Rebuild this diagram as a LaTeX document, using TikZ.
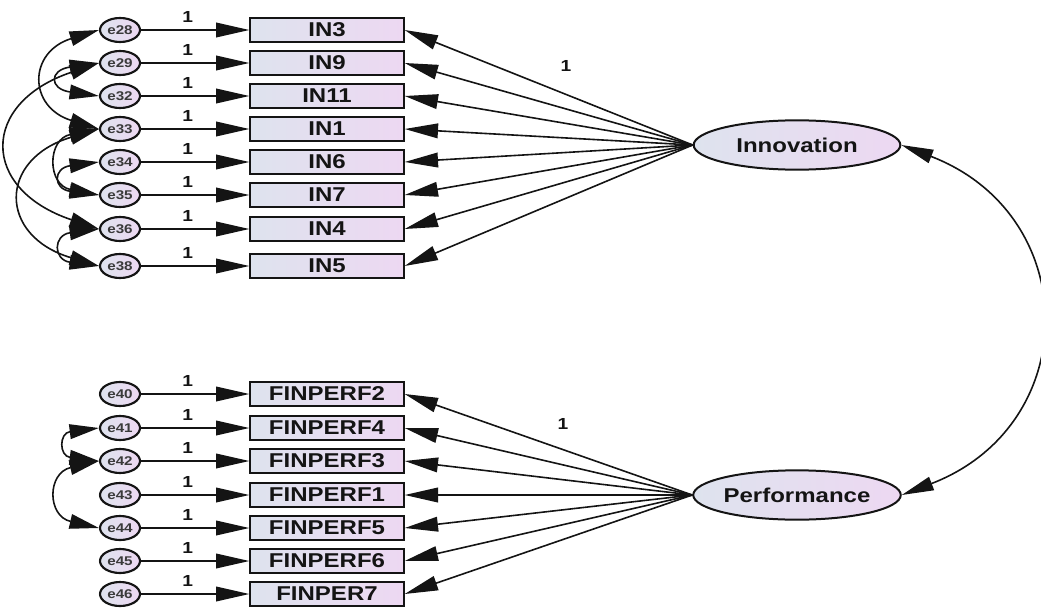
\documentclass[tikz,border=0pt]{standalone}
\usepackage{fontspec}
\newfontfamily\amosfont[FakeStretch=1.2]{Liberation Sans}
\usetikzlibrary{arrows.meta,shapes.geometric}
\definecolor{shadeL}{HTML}{DEE3EE}
\definecolor{shadeR}{HTML}{EDD8F2}
\definecolor{ink}{HTML}{141414}
\definecolor{errtext}{HTML}{3A3A3A}
\tikzset{
  obs/.style={draw=ink, line width=1.5pt, rectangle, minimum width=115pt, minimum height=18pt, inner sep=0pt, left color=shadeL, right color=shadeR, text=ink, font=\amosfont\bfseries\fontsize{15}{15}\selectfont},
  err/.style={draw=ink, line width=1.6pt, ellipse, minimum width=30pt, minimum height=18pt, inner sep=0pt, left color=shadeL, right color=shadeR, text=errtext, font=\amosfont\bfseries\fontsize{9.5}{9.5}\selectfont},
  lat/.style={draw=ink, line width=1.5pt, ellipse, minimum width=155pt, minimum height=37pt, inner sep=0pt, left color=shadeL, right color=shadeR, text=ink, font=\amosfont\bfseries\fontsize{15}{15}\selectfont},
  reg/.style={draw=ink, line width=1.2pt, -{Triangle[length=25pt,width=11pt]}},
  cov/.style={draw=ink, line width=1.2pt, {Triangle[length=22pt,width=11pt]}-{Triangle[length=22pt,width=11pt]}},
  covbig/.style={draw=ink, line width=1.2pt, {Triangle[length=24pt,width=10.5pt]}-{Triangle[length=24pt,width=10.5pt]}},
  one/.style={text=ink, font=\amosfont\bfseries\fontsize{12}{12}\selectfont},
}
\begin{document}
\begin{tikzpicture}[x=0.75pt,y=-0.75pt]
  \useasboundingbox (0,0) rectangle (1041,610);

  % latent variables
  \node[lat] (inn) at (797,145) {Innovation};
  \node[lat] (perf) at (797,495) {Performance};

  % innovation indicators
  \node[err] (e28) at (120,30) {e28};  \node[obs] (in3) at (327,30) {IN3};
  \node[err] (e29) at (120,63) {e29};  \node[obs] (in9) at (327,63) {IN9};
  \node[err] (e32) at (120,96) {e32};  \node[obs] (in11) at (327,96) {IN11};
  \node[err] (e33) at (120,129) {e33}; \node[obs] (in1) at (327,129) {IN1};
  \node[err] (e34) at (120,162) {e34}; \node[obs] (in6) at (327,162) {IN6};
  \node[err] (e35) at (120,195) {e35}; \node[obs] (in7) at (327,195) {IN7};
  \node[err] (e36) at (120,229) {e36}; \node[obs] (in4) at (327,229) {IN4};
  \node[err] (e38) at (120,266) {e38}; \node[obs] (in5) at (327,266) {IN5};

  % performance indicators
  \node[err] (e40) at (120,394) {e40}; \node[obs] (fp2) at (327,394) {FINPERF2};
  \node[err] (e41) at (120,428) {e41}; \node[obs] (fp4) at (327,428) {FINPERF4};
  \node[err] (e42) at (120,461) {e42}; \node[obs] (fp3) at (327,461) {FINPERF3};
  \node[err] (e43) at (120,495) {e43}; \node[obs] (fp1) at (327,495) {FINPERF1};
  \node[err] (e44) at (120,528) {e44}; \node[obs] (fp5) at (327,528) {FINPERF5};
  \node[err] (e45) at (120,561) {e45}; \node[obs] (fp6) at (327,561) {FINPERF6};
  \node[err] (e46) at (120,594) {e46}; \node[obs] (fp7) at (327,594) {FINPER7};

  % error paths
  \draw[reg] (e28) -- node[one,above=2pt,pos=0.43] {1} (in3);
  \draw[reg] (e29) -- node[one,above=2pt,pos=0.43] {1} (in9);
  \draw[reg] (e32) -- node[one,above=2pt,pos=0.43] {1} (in11);
  \draw[reg] (e33) -- node[one,above=2pt,pos=0.43] {1} (in1);
  \draw[reg] (e34) -- node[one,above=2pt,pos=0.43] {1} (in6);
  \draw[reg] (e35) -- node[one,above=2pt,pos=0.43] {1} (in7);
  \draw[reg] (e36) -- node[one,above=2pt,pos=0.43] {1} (in4);
  \draw[reg] (e38) -- node[one,above=2pt,pos=0.43] {1} (in5);
  \draw[reg] (e40) -- node[one,above=2pt,pos=0.43] {1} (fp2);
  \draw[reg] (e41) -- node[one,above=2pt,pos=0.43] {1} (fp4);
  \draw[reg] (e42) -- node[one,above=2pt,pos=0.43] {1} (fp3);
  \draw[reg] (e43) -- node[one,above=2pt,pos=0.43] {1} (fp1);
  \draw[reg] (e44) -- node[one,above=2pt,pos=0.43] {1} (fp5);
  \draw[reg] (e45) -- node[one,above=2pt,pos=0.43] {1} (fp6);
  \draw[reg] (e46) -- node[one,above=2pt,pos=0.43] {1} (fp7);

  % loadings
  \draw[reg] (inn.west) -- node[one,above=13pt,pos=0.44] {1} (in3.east);
  \draw[reg] (inn.west) -- (in9.east);
  \draw[reg] (inn.west) -- (in11.east);
  \draw[reg] (inn.west) -- (in1.east);
  \draw[reg] (inn.west) -- (in6.east);
  \draw[reg] (inn.west) -- (in7.east);
  \draw[reg] (inn.west) -- (in4.east);
  \draw[reg] (inn.west) -- (in5.east);
  \draw[reg] (perf.west) -- node[one,above=11pt,pos=0.45] {1} (fp2.east);
  \draw[reg] (perf.west) -- (fp4.east);
  \draw[reg] (perf.west) -- (fp3.east);
  \draw[reg] (perf.west) -- (fp1.east);
  \draw[reg] (perf.west) -- (fp5.east);
  \draw[reg] (perf.west) -- (fp6.east);
  \draw[reg] (perf.west) -- (fp7.east);

  % error covariances
  \draw[cov] (e28.west) .. controls +(-71,22) and +(-71,-22) .. (e33.west);
  \draw[cov] (e29.west) .. controls +(-50,7) and +(-50,-7) .. (e32.west);
  \draw[cov] (e29.west) .. controls +(-119,40) and +(-119,-40) .. (e36.west);
  \draw[cov] (e33.west) .. controls +(-52,10) and +(-52,-10) .. (e35.west);
  \draw[cov] (e34.west) .. controls +(-46,6) and +(-46,-6) .. (e35.west);
  \draw[cov] (e33.west) .. controls +(-101,30) and +(-101,-30) .. (e38.west);
  \draw[cov] (e36.west) .. controls +(-46,6) and +(-46,-6) .. (e38.west);
  \draw[cov] (e41.west) .. controls +(-40,5) and +(-40,-5) .. (e42.west);
  \draw[cov] (e42.west) .. controls +(-52,12) and +(-52,-12) .. (e44.west);

  % latent covariance
  \draw[covbig] (inn.east) .. controls +(182,70) and +(182,-70) .. (perf.east);
\end{tikzpicture}
\end{document}
